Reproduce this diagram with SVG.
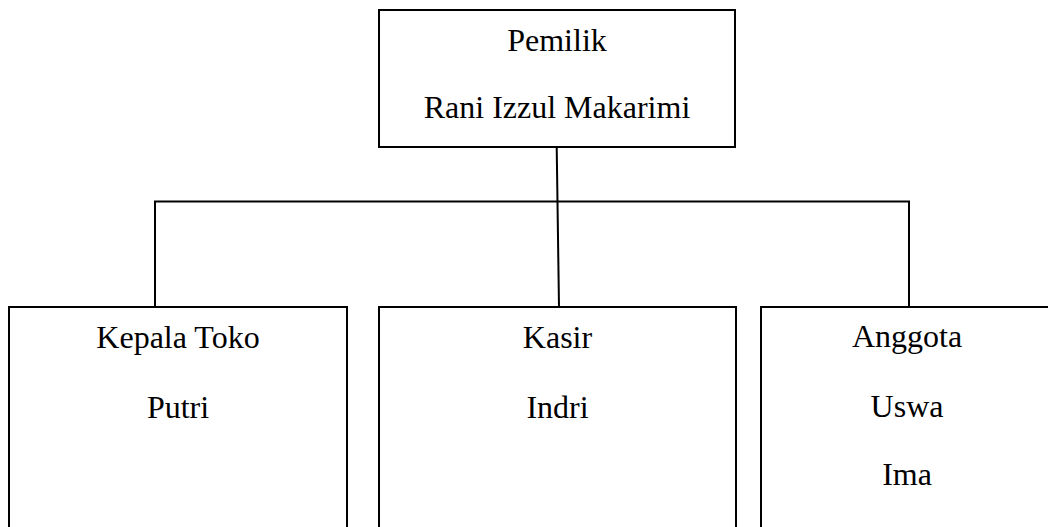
<svg xmlns="http://www.w3.org/2000/svg" width="1048" height="527" viewBox="0 0 1048 527">
<style>
.box{fill:#fff;stroke:#000;stroke-width:2}
.ln{fill:none;stroke:#000;stroke-width:2}
text{font-family:"Liberation Serif","Times New Roman",serif;font-size:32px;fill:#000;text-anchor:middle}
</style>
<rect width="1048" height="527" fill="#fff"/>
<g id="connectors">
<line class="ln" x1="556.7" y1="147" x2="559" y2="307"/>
<polyline class="ln" points="155,307 155,201.5 909,201.5 909,307"/>
</g>
<g id="pemilik">
<rect class="box" x="379" y="10" width="356" height="137"/>
<text x="557" y="51">Pemilik</text>
<text x="557" y="118">Rani Izzul Makarimi</text>
</g>
<g id="kepala-toko">
<rect class="box" x="9" y="307" width="338" height="240"/>
<text x="178" y="348">Kepala Toko</text>
<text x="178" y="418">Putri</text>
</g>
<g id="kasir">
<rect class="box" x="379" y="307" width="357" height="240"/>
<text x="557.5" y="348">Kasir</text>
<text x="557.5" y="418">Indri</text>
</g>
<g id="anggota">
<rect class="box" x="761" y="307" width="300" height="240"/>
<text x="907" y="347">Anggota</text>
<text x="907" y="417">Uswa</text>
<text x="907" y="485">Ima</text>
</g>
</svg>
